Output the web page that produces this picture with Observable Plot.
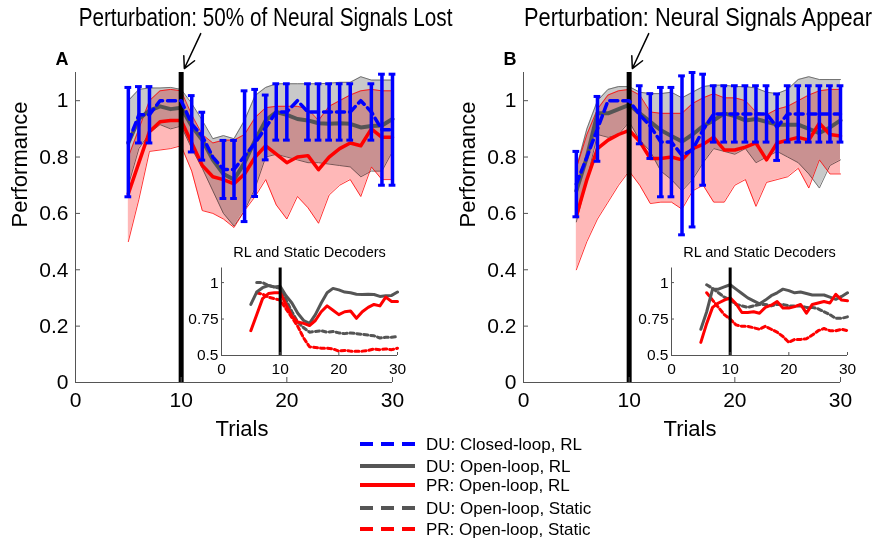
<!DOCTYPE html>
<html>
<head>
<meta charset="utf-8">
<script src="https://cdn.jsdelivr.net/npm/d3@7"></script>
<script src="https://cdn.jsdelivr.net/npm/@observablehq/plot@0.6"></script>
<style>
html,body{margin:0;padding:0;background:#fff;overflow:hidden;}
#chart{position:relative;width:880px;height:541px;overflow:hidden;font-family:Arial,"Liberation Sans",Helvetica,sans-serif;color:#000;}
#chart svg{position:absolute;background:transparent;}
</style>
</head>
<body>
<div id="chart"></div>
<script>
// ---------------- DATA ----------------
const trials = [5,6,7,8,9,10,11,12,13,14,15,16,17,18,19,20,21,22,23,24,25,26,27,28,29,30];
const perturbTrial = 10;

// Panel A: 50% of neural signals lost
const A_grayMean = [0.85,0.935,0.965,0.98,0.97,0.975,0.91,0.86,0.79,0.74,0.72,0.78,0.86,0.93,0.96,0.95,0.935,0.93,0.92,0.918,0.92,0.918,0.905,0.91,0.912,0.935];
const A_grayHi   = [1.0,1.04,1.045,1.045,1.047,1.04,0.99,0.93,0.865,0.876,0.865,0.93,1.018,1.047,1.06,1.06,1.06,1.06,1.06,1.062,1.065,1.065,1.085,1.073,1.073,1.073];
const A_grayLo   = [0.70,0.83,0.885,0.915,0.90,0.91,0.83,0.76,0.68,0.60,0.555,0.61,0.69,0.80,0.81,0.80,0.79,0.78,0.78,0.775,0.77,0.765,0.73,0.75,0.75,0.82];
const A_redMean  = [0.67,0.78,0.89,0.925,0.93,0.93,0.85,0.77,0.73,0.72,0.705,0.74,0.80,0.84,0.81,0.78,0.80,0.805,0.755,0.80,0.83,0.85,0.84,0.90,0.87,0.87];
const A_redHi    = [0.80,0.90,1.0,1.035,1.04,1.035,0.95,0.88,0.85,0.86,0.86,0.88,0.94,0.975,0.98,0.98,0.98,0.97,0.93,0.98,1.0,1.02,1.035,1.04,1.035,1.035];
const A_redLo    = [0.50,0.65,0.82,0.825,0.83,0.84,0.75,0.61,0.60,0.58,0.55,0.61,0.66,0.72,0.63,0.58,0.66,0.62,0.565,0.665,0.70,0.72,0.66,0.765,0.72,0.72];
const A_blueMean = [0.853,0.95,0.95,1.0,1.0,1.0,0.918,0.874,0.80,0.756,0.756,0.803,0.85,0.905,0.96,0.96,1.0,0.96,0.96,0.96,0.96,0.96,1.0,0.96,0.897,0.897];
const A_blueErr  = [0.194,0.10,0.10,0,0,0,0.10,0.085,0,0.103,0.103,0.232,0.19,0.115,0.10,0.10,0,0.10,0.10,0.10,0.10,0.10,0,0.10,0.197,0.197];
const A_grayStatic = [null,1.0,1.0,0.98,0.97,0.96,0.88,0.80,0.73,0.69,0.66,0.665,0.67,0.66,0.665,0.655,0.65,0.655,0.65,0.645,0.64,0.635,0.62,0.625,0.625,0.63];
const A_redStatic  = [null,0.93,0.92,0.90,0.89,0.88,0.82,0.76,0.70,0.62,0.56,0.555,0.55,0.55,0.545,0.53,0.535,0.53,0.53,0.53,0.535,0.545,0.54,0.545,0.54,0.55];

// Panel B: neural signals appear
const B_grayMean = [0.68,0.80,0.955,0.955,0.97,0.985,0.955,0.925,0.895,0.875,0.855,0.88,0.91,0.93,0.955,0.945,0.93,0.935,0.925,0.915,0.915,0.915,0.90,0.885,0.905,0.93];
const B_grayHi   = [0.76,0.90,1.0,1.04,1.05,1.05,1.03,1.025,1.025,1.03,1.01,1.03,1.05,1.055,1.055,1.05,1.05,1.045,1.03,1.025,1.04,1.075,1.085,1.075,1.075,1.075];
const B_grayLo   = [0.57,0.72,0.88,0.87,0.88,0.925,0.86,0.82,0.75,0.72,0.68,0.72,0.78,0.83,0.82,0.81,0.83,0.78,0.80,0.82,0.80,0.78,0.74,0.69,0.77,0.79];
const B_redMean  = [0.59,0.72,0.83,0.86,0.88,0.895,0.855,0.795,0.795,0.80,0.79,0.83,0.845,0.87,0.825,0.825,0.835,0.85,0.79,0.85,0.86,0.87,0.86,0.92,0.88,0.875];
const B_redHi    = [0.76,0.88,0.97,1.02,1.035,1.04,1.02,0.96,0.955,0.955,0.955,0.99,1.01,1.025,1.01,1.01,1.0,0.96,0.95,0.97,0.98,1.0,1.02,1.035,1.04,1.04];
const B_redLo    = [0.40,0.50,0.58,0.64,0.70,0.75,0.70,0.635,0.64,0.64,0.615,0.68,0.70,0.64,0.64,0.70,0.72,0.625,0.71,0.72,0.73,0.76,0.69,0.79,0.74,0.74];
const B_blueMean = [0.704,0.80,0.90,1.0,1.0,1.0,0.95,0.91,0.853,0.853,0.806,0.826,0.897,0.953,0.953,0.953,0.953,0.953,0.953,0.906,0.953,0.953,0.953,0.953,0.953,0.953];
const B_blueErr  = [0.116,0,0.115,0,0,0,0.103,0.115,0.194,0.194,0.282,0.274,0.197,0.10,0.10,0.10,0.10,0.10,0.10,0.118,0.10,0.10,0.10,0.10,0.10,0.10];
const B_grayStatic = [null,0.985,0.96,0.93,0.90,0.88,0.85,0.84,0.83,0.84,0.85,0.85,0.84,0.85,0.85,0.84,0.84,0.84,0.83,0.83,0.82,0.80,0.78,0.755,0.755,0.765];
const B_redStatic  = [null,0.93,0.88,0.83,0.78,0.75,0.71,0.70,0.70,0.69,0.68,0.70,0.68,0.66,0.63,0.59,0.61,0.61,0.615,0.64,0.67,0.685,0.67,0.67,0.68,0.67];

// ticks and text
const xTicks = [0,10,20,30];
const xTickLabels = ["0","10","20","30"];
const yTicks = [0,0.2,0.4,0.6,0.8,1];
const yTickLabels = ["0","0.2","0.4","0.6","0.8","1"];
const insetYTicks = [0.5,0.75,1];
const insetYTickLabels = ["0.5","0.75","1"];
const titleA = "Perturbation: 50% of Neural Signals Lost";
const titleB = "Perturbation: Neural Signals Appear";
const insetTitle = "RL and Static Decoders";
const xLabel = "Trials";
const yLabel = "Performance";
const legendLabels = ["DU: Closed-loop, RL","DU: Open-loop, RL","PR: Open-loop, RL","DU: Open-loop, Static","PR: Open-loop, Static"];

// ---------------- STYLE ----------------
const FONT = 'Arial, "Liberation Sans", Helvetica, sans-serif';
const NARROW = '"Liberation Sans Narrow", "Arial Narrow", Arial, "Liberation Sans", sans-serif';
const BLUE = "#0000ff", RED = "#ff0000", DGRAY = "#555555", AXIS = "#555555";
const legendColors = [BLUE, DGRAY, RED, DGRAY, RED];
const legendDash = ["13,8", null, null, "13,8", "13,8"];

const fmt = (ticks, labels) => d => labels[ticks.indexOf(d)];

function mainPanel(p) {
  const rows = trials.map((t, i) => ({t,
    gm: p.grayMean[i], gh: p.grayHi[i], gl: p.grayLo[i],
    rm: p.redMean[i], rh: p.redHi[i], rl: p.redLo[i],
    bm: p.blueMean[i], be: p.blueErr[i]}));
  const bars = rows.filter(d => d.be > 0);
  const cap = 0.32;
  const svg = Plot.plot({
    width: p.width, height: 450,
    marginLeft: 75, marginRight: p.width - 75 - 317, marginTop: 72, marginBottom: 68,
    x: {domain: [0, 30]},
    y: {domain: [0, 1.1]},
    style: {fontFamily: FONT, fontSize: "21px", background: "transparent", color: "#000", overflow: "visible"},
    marks: [
      Plot.areaY(rows, {x: "t", y1: "gl", y2: "gh", fill: "#c9c9c9"}),
      Plot.line(rows, {x: "t", y: "gh", stroke: "#666", strokeWidth: 0.9}),
      Plot.line(rows, {x: "t", y: "gl", stroke: "#666", strokeWidth: 0.9}),
      Plot.areaY(rows, {x: "t", y1: "rl", y2: "rh", fill: RED, fillOpacity: 0.28, mixBlendMode: "multiply"}),
      Plot.line(rows, {x: "t", y: "rh", stroke: RED, strokeWidth: 0.8}),
      Plot.line(rows, {x: "t", y: "rl", stroke: RED, strokeWidth: 0.8}),
      Plot.line(rows, {x: "t", y: "gm", stroke: DGRAY, strokeWidth: 4}),
      Plot.line(rows, {x: "t", y: "rm", stroke: RED, strokeWidth: 3.5}),
      Plot.ruleX([perturbTrial], {y1: 0, y2: 1.1, stroke: "#000", strokeWidth: 5}),
      Plot.line(rows, {x: "t", y: "bm", stroke: BLUE, strokeWidth: 3.5, strokeDasharray: "8,5"}),
      Plot.ruleX(bars, {x: "t", y1: d => d.bm - d.be, y2: d => d.bm + d.be, stroke: BLUE, strokeWidth: 3.5}),
      Plot.ruleY(bars, {y: d => d.bm - d.be, x1: d => d.t - cap, x2: d => d.t + cap, stroke: BLUE, strokeWidth: 3}),
      Plot.ruleY(bars, {y: d => d.bm + d.be, x1: d => d.t - cap, x2: d => d.t + cap, stroke: BLUE, strokeWidth: 3}),
      Plot.ruleX([0], {stroke: AXIS, strokeWidth: 1}),
      Plot.ruleY([0], {stroke: AXIS, strokeWidth: 1}),
      Plot.axisX({ticks: xTicks, tickFormat: fmt(xTicks, xTickLabels), tickSize: -5, tickPadding: 15, stroke: AXIS, fontSize: 21, label: null}),
      Plot.axisY({ticks: yTicks, tickFormat: fmt(yTicks, yTickLabels), tickSize: -5, tickPadding: 12, stroke: AXIS, fontSize: 21, label: null}),
      Plot.text([yLabel], {text: d => d, frameAnchor: "left", rotate: -90, dx: -56, fontSize: 22}),
      Plot.text([xLabel], {text: d => d, frameAnchor: "bottom", dx: 8, dy: 53, fontSize: 22}),
      Plot.text([p.letter], {text: d => d, frameAnchor: "top-left", textAnchor: "start", dx: -20, dy: -20, fontSize: 18, fontWeight: "bold"}),
      Plot.text([p.title], {text: d => d, frameAnchor: "top", dx: p.titleDx, dy: -64, fontSize: 25, fontFamily: NARROW}),
      Plot.arrow([{x1: perturbTrial + 1.85, y1: 1.238, x2: perturbTrial + 0.3, y2: 1.114}],
        {x1: "x1", y1: "y1", x2: "x2", y2: "y2", stroke: "#000", strokeWidth: 1.5, headLength: 14, headAngle: 55})
    ]
  });
  svg.style.left = p.left + "px";
  svg.style.top = "0px";
  return svg;
}

// horizontally condense a title (narrow face look) around its own centre, after layout
function condenseTitle(svg, title, targetWidth) {
  const svgRect = svg.getBoundingClientRect();
  svg.querySelectorAll("text").forEach(t => {
    if (t.textContent !== title) return;
    const r = t.getBoundingClientRect();
    if (!r.width) return;
    const sx = Math.min(1, targetWidth / r.width);
    const parent = t.parentNode;
    const ctm = parent.getCTM ? parent.getCTM() : null;
    const cx = (r.left + r.width / 2 - svgRect.left) - (ctm ? ctm.e : 0);
    const g = document.createElementNS("http://www.w3.org/2000/svg", "g");
    g.setAttribute("transform", `translate(${cx},0) scale(${sx},1) translate(${-cx},0)`);
    parent.insertBefore(g, t);
    g.appendChild(t);
  });
}

function insetPanel(p) {
  const rows = trials.map((t, i) => ({t, gm: p.grayMean[i], rm: p.redMean[i], gs: p.grayStatic[i], rs: p.redStatic[i]}));
  const svg = Plot.plot({
    width: 230, height: 146,
    marginLeft: 46, marginRight: 230 - 46 - 176, marginTop: 31.5, marginBottom: 27,
    x: {domain: [0, 30]},
    y: {domain: [0.5, 1.1]},
    style: {fontFamily: FONT, fontSize: "15.5px", background: "transparent", color: "#000", overflow: "visible"},
    marks: [
      Plot.line(rows, {x: "t", y: "gs", stroke: DGRAY, strokeWidth: 3, strokeDasharray: "4,3"}),
      Plot.line(rows, {x: "t", y: "rs", stroke: RED, strokeWidth: 3, strokeDasharray: "4,3"}),
      Plot.line(rows, {x: "t", y: "gm", stroke: DGRAY, strokeWidth: 3}),
      Plot.line(rows, {x: "t", y: "rm", stroke: RED, strokeWidth: 3}),
      Plot.ruleX([perturbTrial], {y1: 0.5, y2: 1.1, stroke: "#000", strokeWidth: 3}),
      Plot.ruleX([0], {stroke: AXIS, strokeWidth: 1}),
      Plot.ruleY([0.5], {stroke: AXIS, strokeWidth: 1}),
      Plot.axisX({ticks: xTicks, tickFormat: fmt(xTicks, xTickLabels), tickSize: -3, tickPadding: 10, stroke: AXIS, fontSize: 15.5, label: null}),
      Plot.axisY({ticks: insetYTicks, tickFormat: fmt(insetYTicks, insetYTickLabels), tickSize: -3, tickPadding: 6, stroke: AXIS, fontSize: 15.5, label: null}),
      Plot.text([insetTitle], {text: d => d, frameAnchor: "top", dy: -21, fontSize: 14.5})
    ]
  });
  svg.style.left = p.left + "px";
  svg.style.top = "236px";
  return svg;
}

const chart = document.getElementById("chart");
const svgA = mainPanel({left: 0, width: 448, letter: "A", title: titleA, titleDx: 31.5,
  grayMean: A_grayMean, grayHi: A_grayHi, grayLo: A_grayLo, redMean: A_redMean, redHi: A_redHi, redLo: A_redLo,
  blueMean: A_blueMean, blueErr: A_blueErr});
const svgB = mainPanel({left: 448, width: 432, letter: "B", title: titleB, titleDx: 16,
  grayMean: B_grayMean, grayHi: B_grayHi, grayLo: B_grayLo, redMean: B_redMean, redHi: B_redHi, redLo: B_redLo,
  blueMean: B_blueMean, blueErr: B_blueErr});
chart.appendChild(svgA);
chart.appendChild(svgB);
condenseTitle(svgA, titleA, 374);
condenseTitle(svgB, titleB, 348);
chart.appendChild(insetPanel({left: 175, grayMean: A_grayMean, redMean: A_redMean, grayStatic: A_grayStatic, redStatic: A_redStatic}));
chart.appendChild(insetPanel({left: 625, grayMean: B_grayMean, redMean: B_redMean, grayStatic: B_grayStatic, redStatic: B_redStatic}));

// legend (below the plots)
const legendRowY = [14, 36, 55, 78, 99];
const leg = d3.create("svg").attr("width", 300).attr("height", 111)
  .style("left", "350px").style("top", "430px");
legendLabels.forEach((lab, i) => {
  const g = leg.append("g").attr("transform", `translate(0,${legendRowY[i]})`);
  g.append("line").attr("x1", 10).attr("x2", 65).attr("y1", 0).attr("y2", 0)
    .attr("stroke", legendColors[i]).attr("stroke-width", 4)
    .attr("stroke-dasharray", legendDash[i]);
  g.append("text").attr("x", 76).attr("y", 0).attr("dy", "0.35em")
    .attr("font-family", FONT).attr("font-size", 17).attr("fill", "#000").text(lab);
});
chart.appendChild(leg.node());
</script>
</body>
</html>
